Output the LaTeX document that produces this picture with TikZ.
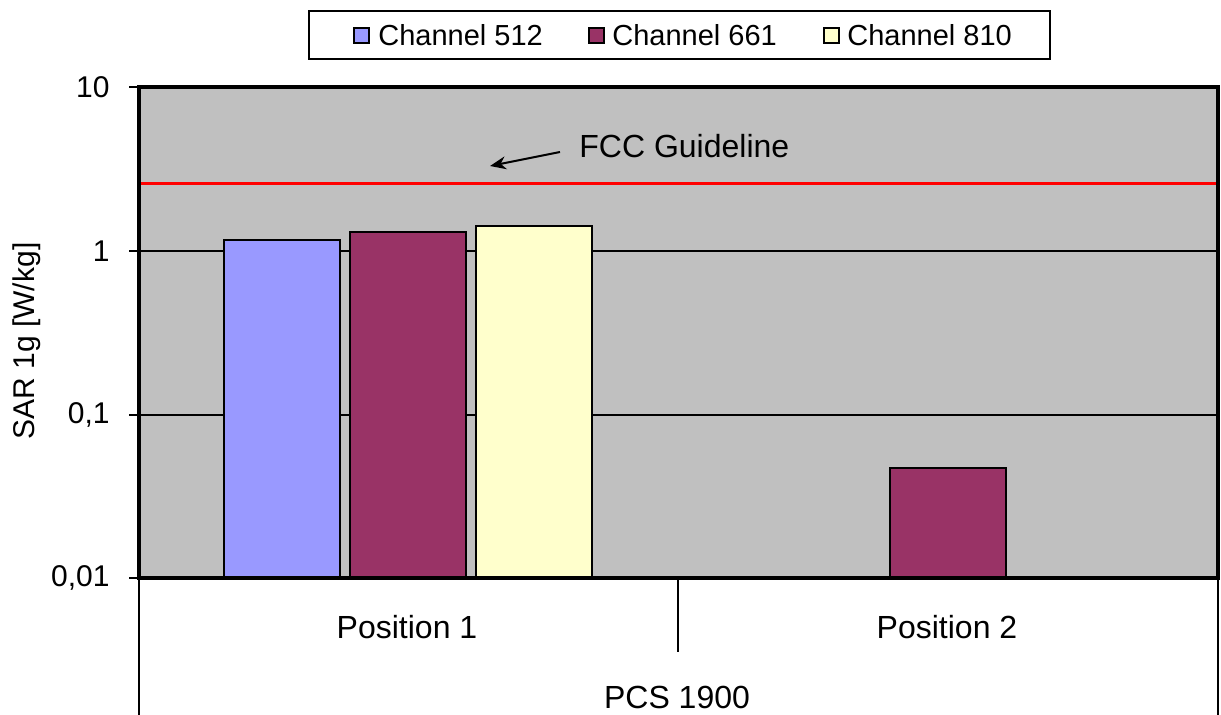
\documentclass[tikz,border=0pt]{standalone}
\usepackage{fontspec}
\setmainfont{Liberation Sans}
\usetikzlibrary{positioning, calc, arrows.meta}
\definecolor{plotgray}{HTML}{C0C0C0}
\definecolor{chblue}{HTML}{9999FF}
\definecolor{chplum}{HTML}{993366}
\definecolor{chcream}{HTML}{FFFFCC}

\begin{document}
\begin{tikzpicture}[x=0.5pt,y=-0.5pt,font=\fontsize{15}{18}\selectfont,
    bar/.style={draw=black,line width=1pt},
    catlabel/.style={font=\fontsize{16}{19}\selectfont},
    legkey/.style={draw=black,line width=0.8pt,minimum size=7.5pt,inner sep=0pt},
    legtext/.style={anchor=west,inner sep=0pt,font=\fontsize{14.5}{17}\selectfont}]
                \useasboundingbox (0,0) rectangle (1221,715);
                % plot area and grid
                \fill[plotgray] (139,87) rectangle (1218,578);
                \foreach \y in {251,415}
                    \draw[line width=0.6pt] (139,\y) -- (1218,\y);
                \draw[red,line width=1.5pt] (139,184) -- (1218,184);
                % bars (log scale, 164 px per decade)
                \foreach \x/\v/\c in {224/1.15/chblue,350/1.29/chplum,476/1.40/chcream,890/0.047/chplum}{
                    \pgfmathsetmacro\ytop{578-164*(log10(\v)+2)}
                    \draw[bar,fill=\c] (\x,578) rectangle (\x+116,\ytop);
                }
                \draw[line width=1.6pt] (139,87) rectangle (1218,578);
                % y axis
                \foreach \y/\t [count=\i] in {87/10,251/1,415/{0,1},578/{0,01}}{
                    \draw[line width=0.8pt] (129,\y) -- (139,\y);
                    \node[anchor=east,inner sep=0pt] (ytick\i) at (110,\y) {\t};
                }
                \node[rotate=90] (ytitle) at (27,341) {SAR 1g [W/kg]};
                % category axis
                \draw[line width=0.6pt] (139,578) -- (139,715);
                \draw[line width=0.6pt] (678,578) -- (678,652);
                \draw[line width=0.6pt] (1218,578) -- (1218,715);
                \node[catlabel] (pos1) at (407,627) {Position 1};
                \node[catlabel] (pos2) at (947,627) {Position 2};
                \node[catlabel] (pcs) at (677,697) {PCS 1900};
                % guideline label
                \node[catlabel,anchor=west,inner sep=0pt] (fcc) at (579,146) {FCC Guideline};
                \coordinate (fcctip) at (490,166);
                \draw[line width=1pt,-{Stealth[length=8pt,width=6.5pt]}] ($(fcc.west)+(-19,6)$) -- (fcctip);
                % legend
                \draw[line width=0.9pt] (309,11) rectangle (1050,59);
                \node[legkey,fill=chblue] (key1) at (361.5,35.5) {};
                \node[legtext] (leg1) at (378,35.5) {Channel 512};
                \node[legkey,fill=chplum] (key2) at (596.5,35.5) {};
                \node[legtext] (leg2) at (612,35.5) {Channel 661};
                \node[legkey,fill=chcream] (key3) at (831.5,35.5) {};
                \node[legtext] (leg3) at (847,35.5) {Channel 810};
\end{tikzpicture}
\end{document}
